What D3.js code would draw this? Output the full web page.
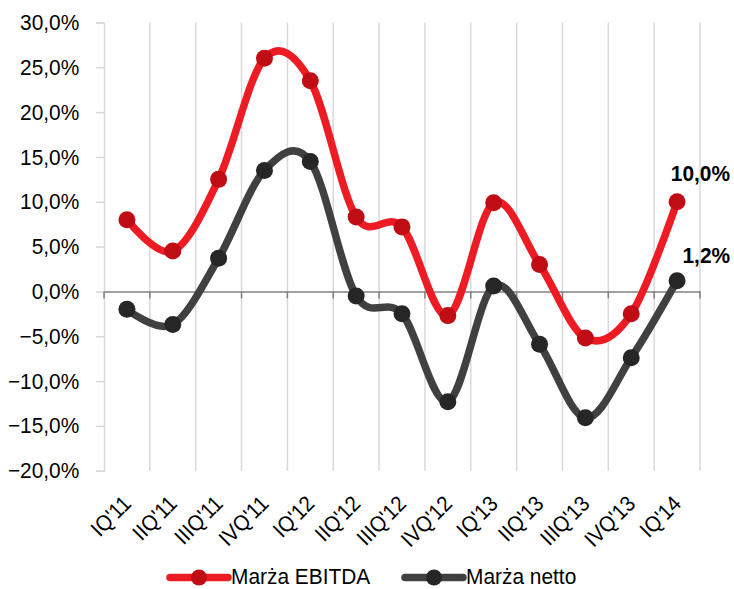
<!DOCTYPE html>
<html>
<head>
<meta charset="utf-8">
<script src="https://cdn.jsdelivr.net/npm/d3@7"></script>
<style>
  html, body { margin: 0; padding: 0; background: #fff; }
  text { font-family: "Liberation Sans", Arial, sans-serif; fill: #000; }
</style>
</head>
<body>
<svg id="chart" width="734" height="589"></svg>
<script>
const categories = ["IQ'11","IIQ'11","IIIQ'11","IVQ'11","IQ'12","IIQ'12","IIIQ'12","IVQ'12","IQ'13","IIQ'13","IIIQ'13","IVQ'13","IQ'14"];
const ebitda = [8.0, 4.5, 12.5, 26.0, 23.5, 8.3, 7.2, -2.7, 9.9, 3.0, -5.2, -2.5, 10.0];
const netto  = [-2.0, -3.7, 3.7, 13.5, 14.5, -0.5, -2.5, -12.3, 0.6, -5.9, -14.1, -7.4, 1.2];
const yTicks = [30, 25, 20, 15, 10, 5, 0, -5, -10, -15, -20];
const seriesNames = ["Marża EBITDA", "Marża netto"];

(function () {
const svg = d3.select("#chart");
const pLeft = 104, pRight = 700, pTop = 22.5, pBottom = 470.7;
const FS = 22, SX = 0.95;

const x = d3.scaleBand().domain(categories).range([pLeft, pRight]);
const y = d3.scaleLinear().domain([-20, 30]).range([pBottom, pTop]);
const fmt = v => d3.format(".1f")(v).replace(".", ",") + "%";

// vertical gridlines at category boundaries
const bounds = categories.map(c => x(c) + x.bandwidth());
svg.append("g").selectAll("line").data(bounds).join("line")
  .attr("x1", d => d).attr("x2", d => d)
  .attr("y1", pTop).attr("y2", pBottom)
  .attr("stroke", "#d9d9d9").attr("stroke-width", 1.5);

// y axis
const yAxis = d3.axisLeft(y).tickValues(yTicks).tickSize(8).tickFormat(fmt);
const ya = svg.append("g").attr("transform", `translate(${pLeft},0)`).call(yAxis);
ya.select(".domain").attr("stroke", "#d9d9d9").attr("stroke-width", 1.5);
ya.selectAll(".tick line").attr("stroke", "#d9d9d9").attr("stroke-width", 1.5);
ya.selectAll(".tick text")
  .attr("x", 0)
  .attr("transform", `translate(-24.7,0) scale(${SX},1)`)
  .attr("font-size", FS).attr("font-family", "Liberation Sans, Arial, sans-serif").attr("fill", "#000");

// zero line with downward ticks
const z = y(0);
const xa = svg.append("g").attr("transform", `translate(0,${z})`)
  .call(d3.axisBottom(x).tickSize(0).tickFormat(""));
xa.select(".domain").attr("stroke", "#808080").attr("stroke-width", 1.5);
svg.append("g").selectAll("line").data([pLeft].concat(bounds)).join("line")
  .attr("x1", d => d).attr("x2", d => d)
  .attr("y1", z).attr("y2", z + 7)
  .attr("stroke", "#808080").attr("stroke-width", 1.5);

// category labels
svg.append("g").selectAll("text").data(categories).join("text")
  .attr("transform", d => `translate(${x(d) + x.bandwidth()/2 + 5.5},505) rotate(-45) scale(0.92,1)`)
  .attr("text-anchor", "end")
  .attr("font-size", FS)
  .text(d => d);

const series = [
  { name: seriesNames[0], values: ebitda, line: "#ed1c24", marker: "#c00d15" },
  { name: seriesNames[1], values: netto, line: "#404040", marker: "#262626" }
];

const lineGen = d3.line()
  .x((d, i) => x(categories[i]) + x.bandwidth()/2)
  .y(d => y(d))
  .curve(d3.curveCardinal.tension(0));

series.forEach(s => {
  svg.append("path").datum(s.values)
    .attr("d", lineGen)
    .attr("fill", "none")
    .attr("stroke", s.line)
    .attr("stroke-width", 7.5)
    .attr("stroke-linejoin", "round")
    .attr("stroke-linecap", "round");
  svg.append("g").selectAll("circle").data(s.values).join("circle")
    .attr("cx", (d, i) => x(categories[i]) + x.bandwidth()/2)
    .attr("cy", d => y(d))
    .attr("r", 8.5)
    .attr("fill", s.marker);
});

// data labels on last points
const lastIdx = categories.length - 1;
const lx = x(categories[lastIdx]) + x.bandwidth()/2;
svg.append("text")
  .attr("transform", `translate(${lx - 6.3},${y(ebitda[lastIdx]) - 21}) scale(${SX},1)`)
  .attr("font-size", FS).attr("font-weight", "bold").text(fmt(ebitda[lastIdx]));
svg.append("text")
  .attr("transform", `translate(${lx + 5.4},${y(netto[lastIdx]) - 17.7}) scale(${SX},1)`)
  .attr("font-size", FS).attr("font-weight", "bold").text(fmt(netto[lastIdx]));

// legend
const legend = [
  { x0: 170, s: series[0] },
  { x0: 405, s: series[1] }
];
legend.forEach(l => {
  const g = svg.append("g").attr("transform", `translate(${l.x0},577.5)`);
  g.append("line").attr("x1", 0).attr("x2", 58).attr("y1", 0).attr("y2", 0)
    .attr("stroke", l.s.line).attr("stroke-width", 7.5).attr("stroke-linecap", "round");
  g.append("circle").attr("cx", 29).attr("cy", 0).attr("r", 8).attr("fill", l.s.marker);
  g.append("text").attr("transform", `translate(61,6.8) scale(${SX},1)`)
    .attr("font-size", FS).text(l.s.name);
});
})();
</script>
</body>
</html>
